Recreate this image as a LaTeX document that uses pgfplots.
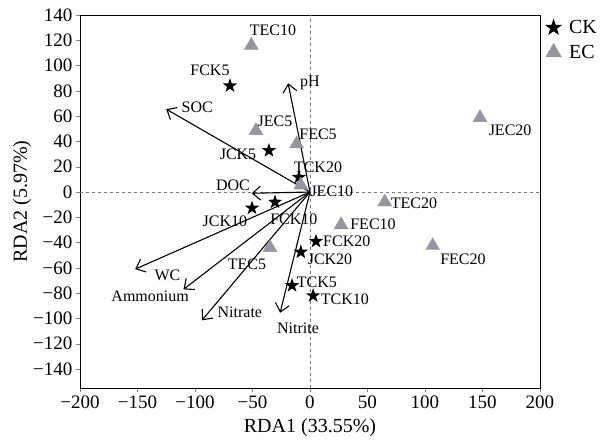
\documentclass[border=0pt]{standalone}
\usepackage{fontspec}
\setmainfont{Liberation Serif}
\usepackage{pgfplots}
\pgfplotsset{compat=1.18}
\usetikzlibrary{arrows.meta}
\definecolor{tri}{RGB}{150,150,158}
\definecolor{dashgray}{RGB}{120,120,120}
\pgfdeclareplotmark{fstar}{%
 \pgfpathmoveto{\pgfpointpolar{90}{\pgfplotmarksize}}%
 \pgfpathlineto{\pgfpointpolar{126}{0.4\pgfplotmarksize}}%
 \pgfpathlineto{\pgfpointpolar{162}{\pgfplotmarksize}}%
 \pgfpathlineto{\pgfpointpolar{198}{0.4\pgfplotmarksize}}%
 \pgfpathlineto{\pgfpointpolar{234}{\pgfplotmarksize}}%
 \pgfpathlineto{\pgfpointpolar{270}{0.4\pgfplotmarksize}}%
 \pgfpathlineto{\pgfpointpolar{306}{\pgfplotmarksize}}%
 \pgfpathlineto{\pgfpointpolar{342}{0.4\pgfplotmarksize}}%
 \pgfpathlineto{\pgfpointpolar{18}{\pgfplotmarksize}}%
 \pgfpathlineto{\pgfpointpolar{54}{0.4\pgfplotmarksize}}%
 \pgfpathclose
 \pgfusepathqfill}
\begin{document}
\begin{tikzpicture}
\begin{axis}[
  scale only axis, width=460pt, height=373pt,
  xmin=-200, xmax=200, ymin=-155, ymax=140,
  xtick={-200,-150,...,200},
  xticklabels={−200,−150,−100,−50,0,50,100,150,200},
  ytick={-140,-120,...,140},
  yticklabels={−140,−120,−100,−80,−60,−40,−20,0,20,40,60,80,100,120,140},
  tick pos=left, tick align=outside, major tick length=4pt,
  ticklabel style={font=\fontsize{19}{20}\selectfont},
  xlabel={RDA1 (33.55\%)}, ylabel={RDA2 (5.97\%)},
  label style={font=\fontsize{20}{22}\selectfont},
  xlabel style={at={(axis description cs:0.5,-0.107)}, anchor=center},
  ylabel style={at={(axis description cs:-0.126,0.5)}, anchor=center},
  axis line style={line width=0.8pt},
  clip=false,
  legend style={at={(1.004,0.997)}, anchor=north west, draw=none, fill=none,
    font=\fontsize{20}{22}\selectfont, row sep=6pt, column sep=5pt},
  legend image post style={mark size=9pt},
  legend cell align=left,
]
\addplot[only marks, mark=fstar, mark size=7.5pt, black] coordinates {
 (-69.6,84) (-35.7,32.8) (-9.6,11.6) (-50.4,-12.7) (-30.4,-8)
 (5.2,-39) (-8,-47.5) (-15.6,-74) (2.7,-82)};
\addlegendentry{CK}
\addplot[only marks, mark=triangle*, mark size=8pt, tri, mark options={draw=tri, fill=tri}] coordinates {
 (-51,116) (-47,48.5) (-11.6,38) (-8,5.5) (65,-7.9) (27,-26) (106.7,-42.5) (-34.8,-44) (147.8,58.7)};
\addlegendentry{EC}
\addplot[dashgray, dashed, line width=0.8pt, forget plot] coordinates {(0,-155) (0,140)};
\addplot[dashgray, dashed, line width=0.8pt, forget plot] coordinates {(-200,0) (200,0)};
\pgfplotsset{every axis plot/.append style={forget plot}}
\tikzset{arr/.style={black, line width=1.1pt, -{Straight Barb[length=8pt,width=14pt,line width=1.1pt]}}}
\addplot[arr] coordinates {(0,0) (-19,86)};
\addplot[arr] coordinates {(0,0) (-125,65.5)};
\addplot[arr] coordinates {(0,0) (-50.7,-1)};
\addplot[arr] coordinates {(0,0) (-152,-61)};
\addplot[arr] coordinates {(0,0) (-110,-77)};
\addplot[arr] coordinates {(0,0) (-94,-101.5)};
\addplot[arr] coordinates {(0,0) (-26,-95.5)};
\begin{scope}[every node/.style={font=\fontsize{16}{18}\selectfont, inner sep=0pt}]
\node at (axis cs:0,86) {pH};
\node at (axis cs:-98,67.4) {SOC};
\node at (axis cs:-67,5.3) {DOC};
\node at (axis cs:-124,-66) {WC};
\node at (axis cs:-139,-82.8) {Ammonium};
\node at (axis cs:-61,-95.4) {Nitrate};
\node at (axis cs:-10.4,-108) {Nitrite};
\node at (axis cs:-32.2,128) {TEC10};
\node at (axis cs:-87,96.5) {FCK5};
\node at (axis cs:-30.4,55.6) {JEC5};
\node at (axis cs:7,45.4) {FEC5};
\node at (axis cs:-62.6,29.7) {JCK5};
\node at (axis cs:7,19.4) {TCK20};
\node at (axis cs:19,0.5) {JEC10};
\node at (axis cs:-74,-23) {JCK10};
\node at (axis cs:-14,-21.8) {FCK10};
\node at (axis cs:-54.8,-57) {TEC5};
\node at (axis cs:32,-39) {FCK20};
\node at (axis cs:17.4,-53) {JCK20};
\node at (axis cs:6,-71) {TCK5};
\node at (axis cs:30.4,-85) {TCK10};
\node at (axis cs:90.4,-9) {TEC20};
\node at (axis cs:54.8,-25.7) {FEC10};
\node at (axis cs:133,-53) {FEC20};
\node at (axis cs:174,48.5) {JEC20};
\end{scope}
\path (axis description cs:-0.1739,-0.1475) rectangle (axis description cs:1.1348,1.0402);
\end{axis}
\end{tikzpicture}
\end{document}
